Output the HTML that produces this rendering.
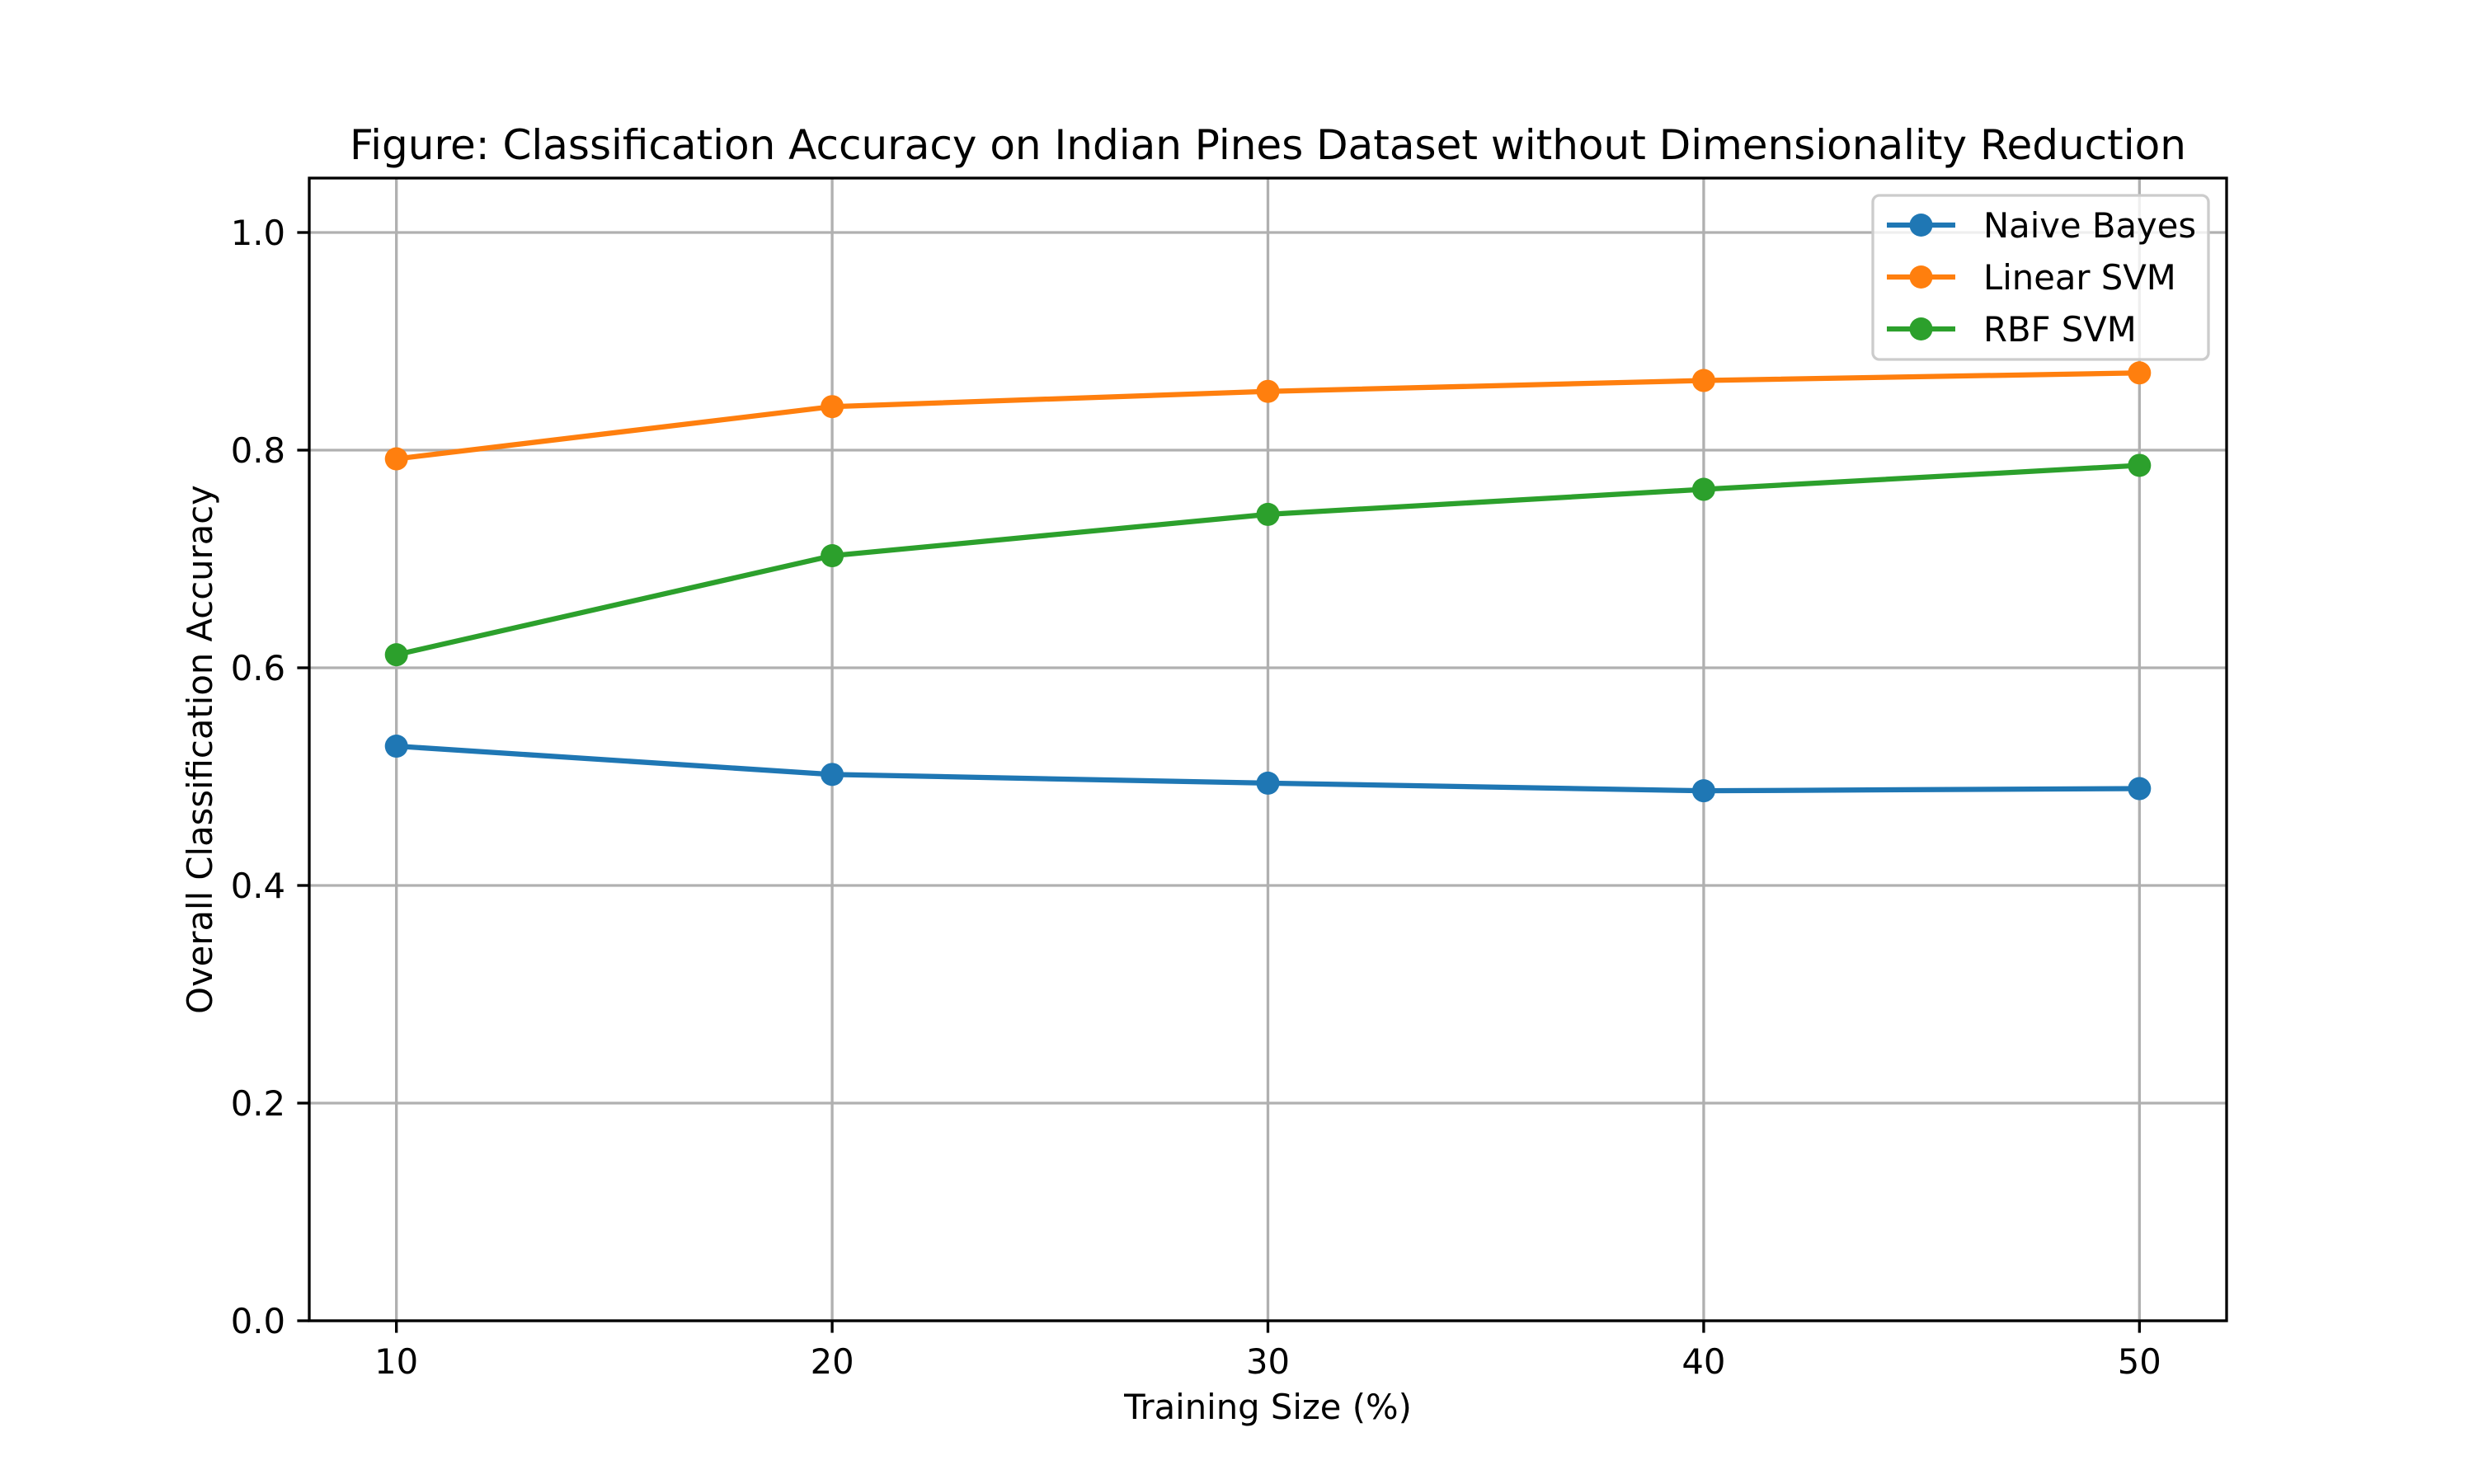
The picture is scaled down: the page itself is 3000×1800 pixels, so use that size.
<!DOCTYPE html>
<html><head><meta charset="utf-8"><style>
html,body{margin:0;padding:0;background:#fff}
svg{display:block;font-family:"DejaVu Sans","Liberation Sans",sans-serif}
</style></head><body>
<svg id="chart" width="3000" height="1800" viewBox="0 0 3000 1800" xmlns="http://www.w3.org/2000/svg">
<rect x="0" y="0" width="3000" height="1800" fill="#fff"/>
<g id="grid"></g>
<g id="series"></g>
<rect x="375" y="216" width="2325" height="1386" fill="none" stroke="#000" stroke-width="3.33"/>
<g id="ticks"></g>
<text x="1537.5" y="193" font-size="50" text-anchor="middle">Figure: Classification Accuracy on Indian Pines Dataset without Dimensionality Reduction</text>
<text x="1537.5" y="1721" font-size="41.7" text-anchor="middle">Training Size (%)</text>
<text transform="translate(257,909) rotate(-90)" font-size="41.7" text-anchor="middle">Overall Classification Accuracy</text>
<g id="legend"></g>
</svg>
<script>
const categories = [10, 20, 30, 40, 50];
const naiveBayes = [0.528, 0.502, 0.494, 0.487, 0.489];
const linearSVM = [0.792, 0.840, 0.854, 0.864, 0.871];
const rbfSVM = [0.612, 0.703, 0.741, 0.764, 0.786];
const yTicks = [0.0, 0.2, 0.4, 0.6, 0.8, 1.0];
const yTickLabels = ["0.0", "0.2", "0.4", "0.6", "0.8", "1.0"];
const xTickLabels = ["10", "20", "30", "40", "50"];
const seriesNames = ["Naive Bayes", "Linear SVM", "RBF SVM"];

const NS = "http://www.w3.org/2000/svg";
const L = 375, R = 2700, T = 216, B = 1602;
const xMin = 8, xMax = 52, yMin = 0, yMax = 1.05;
const xs = v => L + (v - xMin) / (xMax - xMin) * (R - L);
const ys = v => B - (v - yMin) / (yMax - yMin) * (B - T);
function mk(tag, attrs, parent) {
  const e = document.createElementNS(NS, tag);
  for (const k in attrs) e.setAttribute(k, attrs[k]);
  parent.appendChild(e);
  return e;
}
const grid = document.getElementById('grid');
const ticks = document.getElementById('ticks');
categories.forEach((c, i) => {
  const g = mk('line', {x1: xs(c), x2: xs(c), y1: T, y2: B, stroke: '#b0b0b0', 'stroke-width': 3.33}, grid);
  
  
  const t = mk('line', {x1: xs(c), x2: xs(c), y1: B, y2: B + 14.6, stroke: '#000', 'stroke-width': 3.33}, ticks);
  
  
  const tx = mk('text', {x: xs(c), y: B + 64, 'font-size': 41.7, 'text-anchor': 'middle'}, ticks);
  tx.textContent = xTickLabels[i];
  
  
});
yTicks.forEach((v, i) => {
  const g = mk('line', {x1: L, x2: R, y1: ys(v), y2: ys(v), stroke: '#b0b0b0', 'stroke-width': 3.33}, grid);
  
  
  const t = mk('line', {x1: L - 14.6, x2: L, y1: ys(v), y2: ys(v), stroke: '#000', 'stroke-width': 3.33}, ticks);
  
  
  const tx = mk('text', {x: L - 29, y: ys(v) + 15, 'font-size': 41.7, 'text-anchor': 'end'}, ticks);
  tx.textContent = yTickLabels[i];
  
  
});
const colors = ['#1f77b4', '#ff7f0e', '#2ca02c'];
const allSeries = [naiveBayes, linearSVM, rbfSVM];
const sg = document.getElementById('series');
allSeries.forEach((vals, si) => {
  const pts = vals.map((v, i) => xs(categories[i]) + ',' + ys(v)).join(' ');
  const pl = mk('polyline', {points: pts, fill: 'none', stroke: colors[si], 'stroke-width': 6.25, 'stroke-linejoin': 'round', 'stroke-linecap': 'square'}, sg);
  
  
  vals.forEach((v, i) => {
    const c = mk('circle', {cx: xs(categories[i]), cy: ys(v), r: 14, fill: colors[si]}, sg);
    
    
  });
});
const lg = document.getElementById('legend');
const box = mk('rect', {x: 2271, y: 237, width: 407, height: 199, rx: 8, fill: '#fff', 'fill-opacity': 0.8, stroke: '#cccccc', 'stroke-width': 3.33}, lg);


seriesNames.forEach((n, i) => {
  const y = 273 + i * 63;
  const ln = mk('line', {x1: 2288, x2: 2371, y1: y, y2: y, stroke: colors[i], 'stroke-width': 6.25}, lg);
  
  
  const c = mk('circle', {cx: 2329.5, cy: y, r: 14, fill: colors[i]}, lg);
  
  
  const t = mk('text', {x: 2405, y: y + 15, 'font-size': 41.7}, lg);
  t.textContent = n;
  
  
});
</script>
</body></html>
